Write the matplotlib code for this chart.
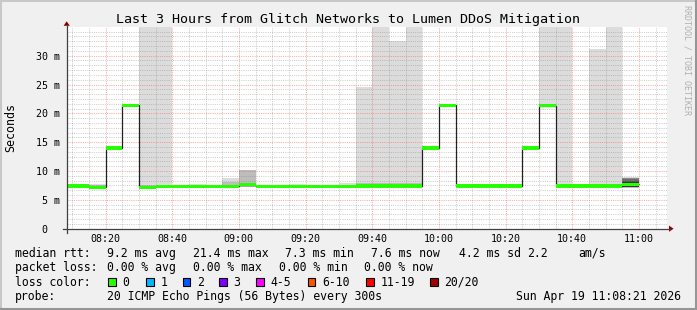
import matplotlib.pyplot as plt
from matplotlib.patches import Rectangle, Polygon
from matplotlib.lines import Line2D

W, H = 697, 310
MONO = 'DejaVu Sans Mono'

# one value per 300 s step, first step starts 08:05 (minutes after 08:00)
step_start = [5, 10, 15, 20, 25, 30, 35, 40, 45, 50, 55,
              60, 65, 70, 75, 80, 85, 90, 95, 100, 105, 110, 115,
              120, 125, 130, 135, 140, 145, 150, 155, 160, 165, 170, 175]
median_ms = [7.4, 7.4, 7.2, 14.0, 21.4, 7.2, 7.35, 7.35, 7.35, 7.35, 7.35,
             7.6, 7.35, 7.35, 7.35, 7.35, 7.35, 7.35, 7.4, 7.4, 7.4, 7.4, 14.0,
             21.4, 7.4, 7.4, 7.4, 7.4, 14.0, 21.3, 7.4, 7.4, 7.4, 7.4, 7.7]
smoke_low = [7.2, 7.2, 7.05, 13.8, 21.2, 7.1, 7.2, 7.2, 7.2, 7.2, 7.2,
             7.3, 7.2, 7.2, 7.2, 7.2, 7.2, 7.2, 7.25, 7.25, 7.25, 7.25, 13.8,
             21.2, 7.25, 7.25, 7.25, 7.25, 13.8, 21.1, 7.25, 7.25, 7.25, 7.25, 7.1]
smoke_high = [7.7, 7.7, 7.8, 14.3, 21.7, 40, 40, 7.55, 7.8, 7.55, 8.8,
              10.2, 7.6, 7.6, 7.8, 7.6, 7.6, 7.9, 24.6, 40, 32.5, 40, 14.3,
              21.7, 7.6, 7.6, 7.7, 7.7, 14.3, 40, 40, 7.6, 31.2, 40, 9.0]
smoke_inner = [7.6, 7.6, 7.5, 14.2, 21.6, 7.5, 7.6, 7.5, 7.6, 7.5, 8.1,
               10.2, 7.5, 7.5, 7.6, 7.5, 7.5, 7.6, 7.9, 7.9, 7.9, 7.9, 14.2,
               21.6, 7.6, 7.6, 7.6, 7.6, 14.2, 21.6, 7.6, 7.5, 7.6, 7.6, 8.8]

# darker smoke of the last step (10:55), outer to inner
last_low = [7.15, 7.2, 7.25, 7.3]
last_high = [8.8, 8.6, 8.35, 8.1]
last_grey = ['#8c8c8c', '#6e6e6e', '#505050', '#383838']

x_ticks = [20, 40, 60, 80, 100, 120, 140, 160, 180]
x_labels = ['08:20', '08:40', '09:00', '09:20', '09:40', '10:00', '10:20', '10:40', '11:00']
y_ticks = [0, 5, 10, 15, 20, 25, 30]
y_labels = ['0  ', '5 m', '10 m', '15 m', '20 m', '25 m', '30 m']

title = 'Last 3 Hours from Glitch Networks to Lumen DDoS Mitigation'
rtt_items = ['median rtt:', '9.2 ms avg', '21.4 ms max', '7.3 ms min',
             '7.6 ms now', '4.2 ms sd', '2.2', 'am/s']
loss_items = ['packet loss:', '0.00 % avg', '0.00 % max', '0.00 % min', '0.00 % now']
loss_names = ['0', '1', '2', '3', '4-5', '6-10', '11-19', '20/20']
loss_colors = ['#26ff00', '#00b8ff', '#0059ff', '#7e00ff', '#ff00ff', '#ff5500', '#ff0000', '#a10000']
probe_text = '20 ICMP Echo Pings (56 Bytes) every 300s'
stamp = 'Sun Apr 19 11:08:21 2026'


def fx(x):
    return x / W


def fy(y):
    return 1 - y / H


fig = plt.figure(figsize=(W / 100, H / 100), dpi=100, facecolor='#f0f0f0')
left, right, top, bottom = 66.7, 666.7, 27.3, 228.7
ax = fig.add_axes([fx(left), fy(bottom), (right - left) / W, (bottom - top) / H])
ax.set_facecolor('white')
ax.set_xlim(8.35, 188.35)
ax.set_ylim(0, 34.92)
for s in ax.spines.values():
    s.set_visible(False)

# smoke
lows = smoke_low
ax.bar(step_start, [h - l for h, l in zip(smoke_high, lows)], bottom=lows, width=5,
       align='edge', color='#dcdcdc', linewidth=0, zorder=1)
ax.bar(step_start, [h - l for h, l in zip(smoke_inner, lows)], bottom=lows, width=5,
       align='edge', color='#bdbdbd', linewidth=0, zorder=1.1)
for lo, hi, c in zip(last_low, last_high, last_grey):
    ax.bar([step_start[-1]], [hi - lo], bottom=[lo], width=5, align='edge',
           color=c, linewidth=0, zorder=1.2)

# grid (dotted)
dot = (0, (1, 1.2))
minor_c = (0.5, 0.5, 0.5, 0.4)
major_c = (1, 0.3, 0.3, 0.5)
for m in range(10, 188, 5):
    ax.axvline(m, color=major_c if m % 20 == 0 else minor_c, lw=0.72, ls=dot, zorder=2)
k = 1
while k * 5 / 6 < 34.9:
    ax.axhline(k * 5 / 6, color=major_c if k % 6 == 0 else minor_c, lw=0.72, ls=dot,
               zorder=2)
    k += 1

# median: thin dark line plus loss coloured band
edges = step_start + [step_start[-1] + 5]
ax.stairs(median_ms, edges, baseline=None, color='#202020', lw=0.9, zorder=3)
sw = 0.27
ax.bar(step_start, [2 * sw] * len(median_ms), bottom=[m - sw for m in median_ms],
       width=5, align='edge', color=loss_colors[0], linewidth=0, zorder=4)

ax.set_xticks(x_ticks)
ax.set_xticklabels(x_labels, family=MONO, fontsize=7.2)
ax.set_yticks(y_ticks)
ax.set_yticklabels(y_labels, family=MONO, fontsize=7.2)
ax.tick_params(axis='x', length=0, pad=3.5)
ax.tick_params(axis='y', length=0, pad=4.6)

# axes with arrows
axc = '#404040'
fig.add_artist(Line2D([fx(left), fx(left)], [fy(232.5), fy(25.5)], color=axc, lw=0.9))
fig.add_artist(Line2D([fx(62.7), fx(669.5)], [fy(bottom), fy(bottom)], color=axc, lw=0.9))
fig.add_artist(Polygon([(fx(63.6), fy(25.8)), (fx(69.8), fy(25.8)), (fx(left), fy(21.3))],
                       closed=True, color='#8a0000', lw=0))
fig.add_artist(Polygon([(fx(669), fy(225.6)), (fx(669), fy(231.8)), (fx(673.6), fy(bottom))],
                       closed=True, color='#8a0000', lw=0))

fig.text(fx(348), fy(19), title, ha='center', va='center', fontsize=9.6, family=MONO)
fig.text(fx(11), fy(128), 'Seconds', rotation=90, ha='center', va='center',
         fontsize=8.4, family=MONO)
fig.text(fx(686.5), fy(60), 'RRDTOOL / TOBI OETIKER', rotation=270, ha='center',
         va='center', fontsize=6, family=MONO, color='#b0b0b0')

# legend
fs = 8.3
rtt_x = [16, 107.3, 193.3, 286, 371.7, 460, 528.3, 579.3]
for x, t in zip(rtt_x, rtt_items):
    fig.text(fx(x - 0.7), fy(257), t, fontsize=fs, family=MONO, va='baseline')
loss_x = [16, 107.3, 193.3, 279.3, 365]
for x, t in zip(loss_x, loss_items):
    fig.text(fx(x - 0.7), fy(271.4), t, fontsize=fs, family=MONO, va='baseline')
fig.text(fx(15.3), fy(285.9), 'loss color:', fontsize=fs, family=MONO, va='baseline')
box_x = [108.3, 146, 182.7, 219.3, 256, 307.7, 366, 430]
for x, name, c in zip(box_x, loss_names, loss_colors):
    fig.add_artist(Rectangle((fx(x), fy(285.5)), 7.6 / W, 7.8 / H, facecolor=c,
                             edgecolor='black', lw=0.8))
    fig.text(fx(x + 14.3), fy(285.9), name, fontsize=fs, family=MONO, va='baseline')
fig.text(fx(15.3), fy(300.3), 'probe:', fontsize=fs, family=MONO, va='baseline')
fig.text(fx(106.6), fy(300.3), probe_text, fontsize=fs, family=MONO, va='baseline')
fig.text(fx(680.5), fy(300.3), stamp, fontsize=fs, family=MONO, va='baseline', ha='right')

# 3d frame
fig.add_artist(Line2D([0, 1], [fy(0.8), fy(0.8)], color='#c8c8c8', lw=1.5))
fig.add_artist(Line2D([fx(0.8), fx(0.8)], [0, 1], color='#c8c8c8', lw=1.5))
fig.add_artist(Line2D([0, 1], [fy(309), fy(309)], color='#969696', lw=1.5))
fig.add_artist(Line2D([fx(696), fx(696)], [0, 1], color='#969696', lw=1.5))

fig.savefig('out.png', dpi=100, facecolor=fig.get_facecolor())
